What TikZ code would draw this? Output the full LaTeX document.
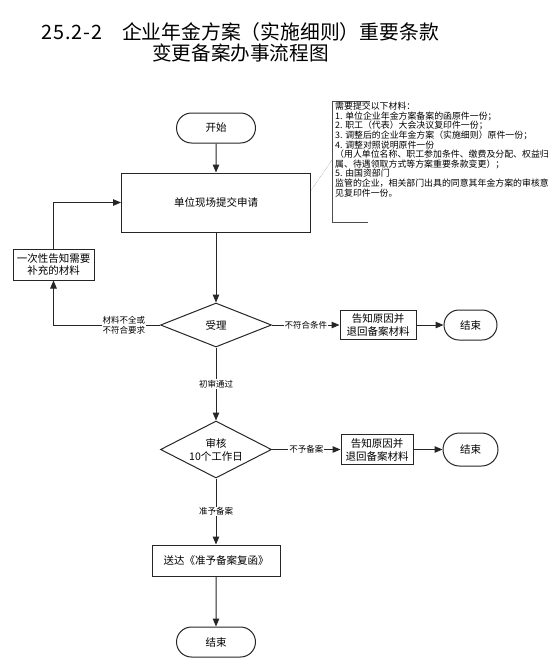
\documentclass[tikz,border=0pt]{standalone}
\usepackage{fontspec}
\setmainfont{Noto Sans CJK SC}
\usetikzlibrary{shapes.geometric,shapes.misc,arrows.meta,calc}
\begin{document}
\begin{tikzpicture}[x=1pt,y=-1pt,
  line/.style={draw=black!85, line width=1pt},
  arr/.style={line,-{Triangle[length=8pt,width=6.5pt]}},
  term/.style={rounded rectangle, draw=black!85, line width=1pt, inner sep=0pt, font=\fontsize{10.5}{12}\selectfont},
  proc/.style={rectangle, draw=black!85, line width=1pt, inner sep=0pt, align=center, font=\fontsize{10.5}{13}\selectfont},
  dec/.style={diamond, aspect=2, draw=black!85, line width=1pt, inner sep=0pt, align=center, font=\fontsize{10.5}{13}\selectfont},
  elab/.style={fill=white, inner sep=0.8pt, align=center, font=\fontsize{8.5}{10.5}\selectfont},
]
\useasboundingbox[fill=white] (0,0) rectangle (554,670);

\node[font=\fontsize{19.8}{22}\selectfont] (title1) at (240,32) {2\kern1pt 5\kern1pt .\kern1pt 2\kern1pt -\kern1pt 2　企业年金方案（实施细则）重要条款};
\node[font=\fontsize{19.6}{22}\selectfont] (title2) at (240.5,53) {变更备案办事流程图};

\node[term, minimum width=79pt, minimum height=30pt] (start) at (216,128) {开始};
\node[proc, minimum width=189pt, minimum height=59pt] (submit) at (216,202.5) {单位现场提交申请};
\node[proc, minimum width=81pt, minimum height=31pt, font=\fontsize{10.5}{12}\selectfont] (supp) at (53.5,264.5) {一次性告知需要\\补充的材料};
\node[dec, minimum width=111pt, minimum height=44pt] (accept) at (216,325) {受理};
\node[proc, minimum width=76pt, minimum height=29pt] (rej1) at (378,325) {告知原因并\\退回备案材料};
\node[term, minimum width=53pt, minimum height=30pt] (end1) at (470.5,325) {结束};
\node[dec, minimum width=111pt, minimum height=57pt] (review) at (216,449.5) {审核\\10个工作日};
\node[proc, minimum width=72pt, minimum height=30pt] (rej2) at (377,449.5) {告知原因并\\退回备案材料};
\node[term, minimum width=55pt, minimum height=33pt] (end2) at (470.5,449.5) {结束};
\node[proc, minimum width=128pt, minimum height=31pt] (deliver) at (216,560.5) {送达《准予备案复函》};
\node[term, minimum width=79pt, minimum height=30pt] (end3) at (216,642) {结束};

% note
\draw[line, draw=black!70] (370,101) -- (332,101) -- (332,222) -- (368,222);
\node[anchor=north west, align=left, inner sep=0pt, font=\fontsize{8.9}{9.6}\selectfont] (notetext) at (335,102) {需要提交以下材料：\\
1. 单位企业年金方案备案的函原件一份；\\
2. 职工（代表）大会决议复印件一份；\\
3. 调整后的企业年金方案（实施细则）原件一份；\\
4. 调整对照说明原件一份\\
（用人单位名称、职工参加条件、缴费及分配、权益归\\
属、待遇领取方式等方案重要条款变更）；\\
5. 由国资部门\\
监管的企业，相关部门出具的同意其年金方案的审核意\\
见复印件一份。};
\coordinate (notept) at (332,160);
\draw[densely dotted, draw=black!60] ($(submit.north east)!0.3!(submit.south east)$) -- (notept);

% connectors
\draw[arr] (start) -- (submit);
\draw[arr] (submit) -- (accept);
\draw[arr] (accept.west) -| (supp.south) node[elab, pos=0.17] {材料不全或\\不符合要求};
\draw[arr] (supp.north) |- (submit.west);
\draw[arr] (accept.east) -- (rej1.west) node[elab, midway] {不符合条件};
\draw[arr] (rej1) -- (end1);
\draw[arr] (accept) -- (review) node[elab, midway] {初审通过};
\draw[arr] (review.east) -- (rej2.west) node[elab, midway] {不予备案};
\draw[arr] (rej2) -- (end2);
\draw[arr] (review) -- (deliver) node[elab, midway] {准予备案};
\draw[arr] (deliver) -- (end3);
\end{tikzpicture}
\end{document}
